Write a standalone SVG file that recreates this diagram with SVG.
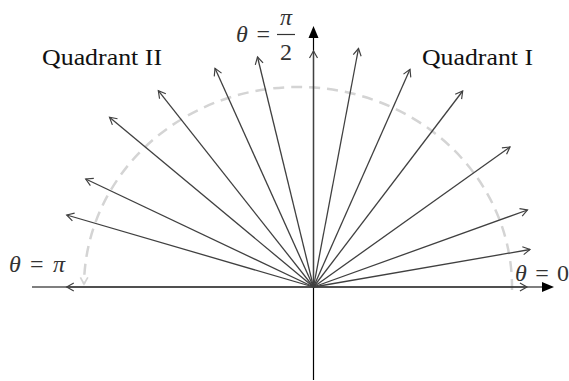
<svg xmlns="http://www.w3.org/2000/svg" width="569" height="381" viewBox="0 0 569 381">
<defs>
<marker id="open" markerUnits="userSpaceOnUse" markerWidth="20" markerHeight="20" refX="0" refY="0" viewBox="-12 -10 24 20" orient="auto" overflow="visible">
<path d="M -8.5 -4.8 L 0 0 L -8.5 4.8" fill="none" stroke="#404040" stroke-width="1.4"/>
</marker>
<marker id="openarc" markerUnits="userSpaceOnUse" markerWidth="20" markerHeight="20" refX="0" refY="0" viewBox="-12 -10 24 20" orient="auto" overflow="visible">
<path d="M -8 -4.5 L 0 0 L -8 4.5" fill="none" stroke="#d4d4d4" stroke-width="2"/>
</marker>
</defs>
<style>
.vec{stroke:#404040;stroke-width:1.3;fill:none;marker-end:url(#open)}
.axis{stroke:#000;stroke-width:1.2;fill:none}
.arc{stroke:#d4d4d4;stroke-width:2.5;fill:none;stroke-dasharray:11 7}
.lbl{font-family:"Liberation Serif",serif;font-size:24px;fill:#111}
.math{font-family:"Liberation Serif",serif;font-size:24px;fill:#333}
.mi{font-style:italic}
</style>
<rect width="569" height="381" fill="#fff"/>
<g id="arc">
<path class="arc" d="M 512 290 A 214 200 0 0 0 84 284" marker-end="url(#openarc)"/>
</g>
<g id="axes">
<line class="axis" x1="32" y1="287" x2="545" y2="287"/>
<polygon points="554,287 542,282 542,292" fill="#000"/>
<line class="axis" x1="313.5" y1="380" x2="313.5" y2="36"/>
<polygon points="313.5,26 308.5,38 318.5,38" fill="#000"/>
</g>
<g id="connectors">
<line class="vec" x1="313.5" y1="287" x2="527" y2="287"/>
<line class="vec" x1="313.5" y1="287" x2="530" y2="249.5"/>
<line class="vec" x1="313.5" y1="287" x2="527.5" y2="210"/>
<line class="vec" x1="313.5" y1="287" x2="510" y2="147"/>
<line class="vec" x1="313.5" y1="287" x2="462.7" y2="91"/>
<line class="vec" x1="313.5" y1="287" x2="410" y2="69.3"/>
<line class="vec" x1="313.5" y1="287" x2="358.5" y2="48.5"/>
<line class="vec" x1="313.5" y1="287" x2="313.5" y2="51"/>
<line class="vec" x1="313.5" y1="287" x2="257.5" y2="57"/>
<line class="vec" x1="313.5" y1="287" x2="215" y2="68.3"/>
<line class="vec" x1="313.5" y1="287" x2="158.3" y2="90.7"/>
<line class="vec" x1="313.5" y1="287" x2="109.5" y2="117.3"/>
<line class="vec" x1="313.5" y1="287" x2="85.7" y2="179"/>
<line class="vec" x1="313.5" y1="287" x2="66.7" y2="215"/>
<line class="vec" x1="313.5" y1="287" x2="66.7" y2="287"/>
</g>
<g id="label-q2"><text class="lbl" x="42" y="65" textLength="120" lengthAdjust="spacingAndGlyphs">Quadrant II</text></g>
<g id="label-q1"><text class="lbl" x="422" y="65" textLength="111" lengthAdjust="spacingAndGlyphs">Quadrant I</text></g>
<g id="label-pi">
<text class="math" x="9" y="272" textLength="56" lengthAdjust="spacing"><tspan class="mi">θ</tspan> = <tspan class="mi">π</tspan></text>
</g>
<g id="label-zero">
<text class="math" x="515" y="281" textLength="54" lengthAdjust="spacing"><tspan class="mi">θ</tspan> = 0</text>
</g>
<g id="label-half-pi">
<text class="math" x="236" y="42" textLength="34" lengthAdjust="spacing"><tspan class="mi">θ</tspan> =</text>
<text class="math mi" x="286" y="25" text-anchor="middle">π</text>
<line x1="277" y1="34.5" x2="295" y2="34.5" stroke="#333" stroke-width="1.2"/>
<text class="math" x="286" y="60" text-anchor="middle">2</text>
</g>
</svg>
